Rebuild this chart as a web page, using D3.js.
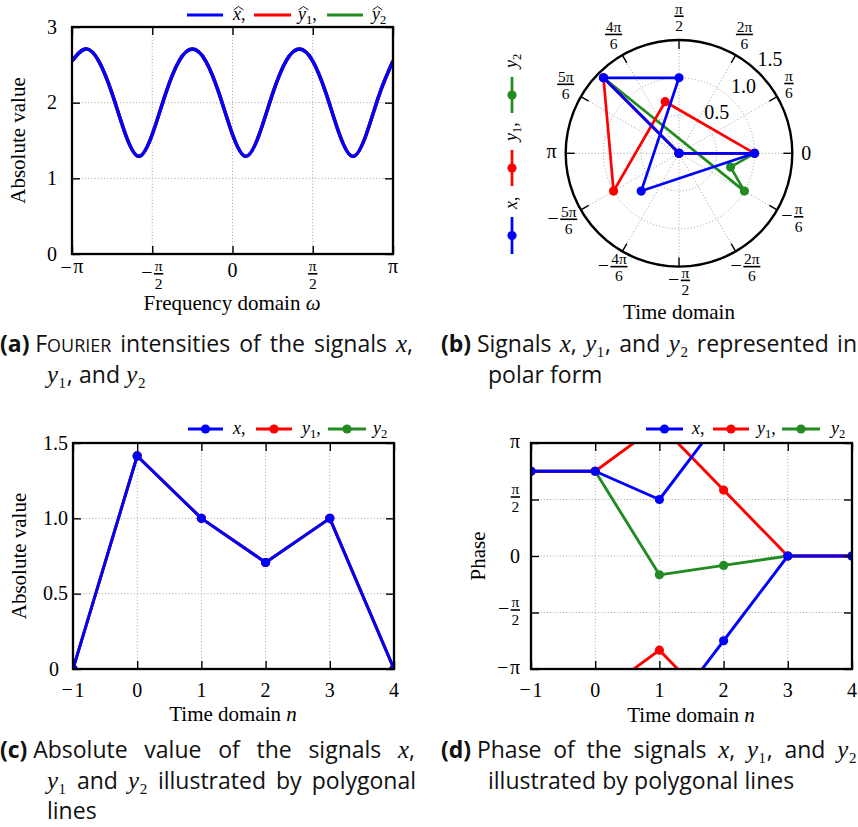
<!DOCTYPE html>
<html>
<head>
<meta charset="utf-8">
<script src="https://cdn.jsdelivr.net/npm/d3@7"></script>
<style>
  body { margin: 0; background: #fff; }
  svg { display: block; }
</style>
</head>
<body>
<svg id="fig" width="858" height="827"></svg>
<script>
// ---------------------------------------------------------------------------
// Data
// ---------------------------------------------------------------------------
// Time index n of the finite signals x, y1, y2
const timeIndex = [-1, 0, 1, 2, 3, 4];

// Absolute values |x[n]|, |y1[n]|, |y2[n]|
const absX  = [0, 1.414, 1, 0.707, 1, 0];
const absY1 = [0, 1.414, 1, 0.707, 1, 0];
const absY2 = [0, 1.414, 1, 0.707, 1, 0];

// Phases arg x[n], arg y1[n], arg y2[n] in multiples of π
const phaseX  = [0.75, 0.75, 0.5, -0.75, 0, 0];
const phaseY1 = [0.75, 0.75, -0.8333, 0.5833, 0, 0];
const phaseY2 = [0.75, 0.75, -0.1667, -0.0833, 0, 0];

// Fourier intensity |x̂(ω)| = |ŷ1(ω)| = |ŷ2(ω)| sampled at ω = k·π/12
const freqSteps = [-12, -11, -10, -9, -8, -7, -6, -5, -4, -3, -2, -1, 0,
                   1, 2, 3, 4, 5, 6, 7, 8, 9, 10, 11, 12];
const fourierMagnitude = [2.55, 2.71, 2.55, 2.12, 1.58, 1.29, 1.58, 2.12, 2.55,
                          2.71, 2.55, 2.12, 1.58, 1.29, 1.58, 2.12, 2.55,
                          2.71, 2.55, 2.12, 1.58, 1.29, 1.58, 2.12, 2.55];

// Series names and colours (drawing order: y2, y1, x so that x stays on top)
const seriesNames  = ["x", "y1", "y2"];
const seriesColors = ["#0000ff", "#ff0000", "#228b22"];

// Tick values and labels
const freqTicks       = [-1, -0.5, 0, 0.5, 1];          // multiples of π
const freqTickLabels  = ["−π", "−π/2", "0", "π/2", "π"];
const absTicksFourier = [0, 1, 2, 3];
const absTicksSignal  = [0, 0.5, 1.0, 1.5];
const absTickLabels   = ["0", "0.5", "1.0", "1.5"];
const timeTicks       = [-1, 0, 1, 2, 3, 4];
const phaseTicks      = [-1, -0.5, 0, 0.5, 1];          // multiples of π
const phaseTickLabels = ["−π", "−π/2", "0", "π/2", "π"];
const polarAngleSteps  = [0, 1, 2, 3, 4, 5, 6, -5, -4, -3, -2, -1];   // multiples of π/6
const polarAngleLabels = ["0", "π/6", "2π/6", "π/2", "4π/6", "5π/6", "π",
                          "−5π/6", "−4π/6", "−π/2", "−2π/6", "−π/6"];
const polarRadiusTicks  = [0.5, 1.0, 1.5];
const polarRadiusLabels = ["0.5", "1.0", "1.5"];

// ---------------------------------------------------------------------------
// Helpers
// ---------------------------------------------------------------------------
const SERIF = "'Liberation Serif','DejaVu Serif',serif";
const SANS  = "'Open Sans',Lato,'Noto Sans',sans-serif";
const svg = d3.select("#fig");
const defs = svg.append("defs");

const absBySeries   = [absX, absY1, absY2];
const phaseBySeries = [phaseX, phaseY1, phaseY2];
const drawOrder = [2, 1, 0];
const FRAC_FS = 15.5;
const NUM_Y = -2.5, DEN_Y = 14.8;   // baselines of numerator / denominator around the bar

// Math-style tick label: plain text or a stacked fraction, optional minus.
// Returns the group and a glyph box relative to the group origin.
function mathLabel(parent, str, fs, ffs) {
  const g = parent.append("g").style("font-family", SERIF).attr("fill", "#000");
  const neg = str.startsWith("−");
  const body = neg ? str.slice(1) : str;
  let box, axisY;
  if (body.includes("/")) {
    const [num, den] = body.split("/");
    const nt = g.append("text").attr("text-anchor", "middle").attr("y", NUM_Y)
      .style("font-size", ffs + "px").text(num);
    const dt = g.append("text").attr("text-anchor", "middle").attr("y", DEN_Y)
      .style("font-size", ffs + "px").text(den);
    const w = Math.max(nt.node().getComputedTextLength(), dt.node().getComputedTextLength()) + 1.5;
    g.append("line").attr("x1", -w / 2).attr("x2", w / 2)
      .attr("stroke", "#000").attr("stroke-width", 1.6);
    const numH = /\d/.test(num) ? 0.68 * ffs : 0.47 * ffs;
    box = { x0: -w / 2, x1: w / 2, y0: NUM_Y - numH, y1: DEN_Y };
    axisY = 0;
  } else {
    const t = g.append("text").attr("text-anchor", "middle")
      .style("font-size", fs + "px").text(body);
    const w = t.node().getComputedTextLength();
    const h = /\d/.test(body) ? 0.66 * fs : 0.47 * fs;
    box = { x0: -w / 2, x1: w / 2, y0: -h, y1: 0 };
    axisY = -h / 2;
  }
  if (neg) {
    const m = g.append("text").attr("text-anchor", "end")
      .attr("x", box.x0 - 1.5).attr("y", axisY + 0.27 * fs)
      .style("font-size", fs + "px").text("−");
    box.x0 -= m.node().getComputedTextLength() + 1.5;
  }
  return { g, box };
}

// Position a label so that a reference point of its box lands on (px, py)
function placeLabel(parent, str, fs, ffs, mode, px, py) {
  const { g, box } = mathLabel(parent, str, fs, ffs);
  let tx, ty;
  const cx = (box.x0 + box.x1) / 2, cy = (box.y0 + box.y1) / 2;
  if (mode === "top")        { tx = px - cx;     ty = py - box.y0; }
  else if (mode === "right") { tx = px - box.x1; ty = py - cy; }
  else                       { tx = px - cx;     ty = py - cy; }
  g.attr("transform", `translate(${tx},${ty})`);
  return { g, box };
}

function gridLines(g, x, y, b, gx, gy) {
  const st = s => s.attr("stroke", "#a3a3a3").attr("stroke-width", 1)
    .attr("stroke-dasharray", "1 2.2");
  g.append("g").selectAll("line").data(gx).join("line")
    .attr("x1", d => x(d)).attr("x2", d => x(d)).attr("y1", b.top).attr("y2", b.bottom).call(st);
  g.append("g").selectAll("line").data(gy).join("line")
    .attr("y1", d => y(d)).attr("y2", d => y(d)).attr("x1", b.left).attr("x2", b.right).call(st);
}

function frameAndTicks(g, x, y, b, xt, yt) {
  const len = 8;
  const st = s => {
    s.select(".domain").remove();
    s.selectAll(".tick line").attr("stroke", "#000").attr("stroke-width", 1.4);
    s.selectAll(".tick text").remove();
  };
  g.append("g").attr("transform", `translate(0,${b.bottom})`)
    .call(d3.axisBottom(x).tickValues(xt).tickSize(-len).tickFormat("")).call(st);
  g.append("g").attr("transform", `translate(0,${b.top})`)
    .call(d3.axisTop(x).tickValues(xt).tickSize(-len).tickFormat("")).call(st);
  g.append("g").attr("transform", `translate(${b.left},0)`)
    .call(d3.axisLeft(y).tickValues(yt).tickSize(-len).tickFormat("")).call(st);
  g.append("g").attr("transform", `translate(${b.right},0)`)
    .call(d3.axisRight(y).tickValues(yt).tickSize(-len).tickFormat("")).call(st);
  g.append("rect").attr("x", b.left).attr("y", b.top)
    .attr("width", b.right - b.left).attr("height", b.bottom - b.top)
    .attr("fill", "none").attr("stroke", "#000").attr("stroke-width", 2.3);
}

function clipFor(id, b) {
  defs.append("clipPath").attr("id", id).append("rect")
    .attr("x", b.left).attr("y", b.top)
    .attr("width", b.right - b.left).attr("height", b.bottom - b.top);
  return `url(#${id})`;
}

// Legend entry text: italic letter, optional wide hat, optional subscript, optional comma
function legendText(g, x, y, name, hat, comma, fs) {
  const t = g.append("text").attr("x", x).attr("y", y)
    .style("font-family", SERIF).style("font-size", fs + "px");
  const letter = t.append("tspan").style("font-style", "italic").text(name[0]);
  if (name.length > 1) {
    t.append("tspan").attr("dy", 4).style("font-size", (fs * 0.7) + "px").text(name.slice(1));
    if (comma) t.append("tspan").attr("dy", -4).text(",");
  } else if (comma) {
    t.append("tspan").text(",");
  }
  if (hat) {
    const w = letter.node().getComputedTextLength();
    const x0 = x + 0.5, x1 = x + w + 2.5;
    g.append("path")
      .attr("d", `M${x0},${y - 9.5} L${(x0 + x1) / 2},${y - 13} L${x1},${y - 9.5}`)
      .attr("fill", "none").attr("stroke", "#000").attr("stroke-width", 0.9);
  }
  return t;
}

function axisTitle(g, x, y, parts, rotate) {
  const t = g.append("text").attr("text-anchor", "middle")
    .style("font-family", SERIF).style("font-size", "21px");
  if (rotate) t.attr("transform", `translate(${x},${y}) rotate(-90)`);
  else t.attr("x", x).attr("y", y);
  parts.forEach(([s, it]) => t.append("tspan").style("font-style", it ? "italic" : "normal").text(s));
  return t;
}

// ---------------------------------------------------------------------------
// (a) Fourier intensities
// ---------------------------------------------------------------------------
{
  const b = { left: 72, right: 393, top: 27, bottom: 254 };
  const x = d3.scaleLinear().domain([-1, 1]).range([b.left, b.right]);
  const y = d3.scaleLinear().domain([0, 3]).range([b.bottom, b.top]);
  const g = svg.append("g");
  gridLines(g, x, y, b, [-0.5, 0, 0.5], [1, 2]);

  const line = d3.line()
    .x((d, i) => x(freqSteps[i] / 12))
    .y(d => y(d))
    .curve(d3.curveNatural);
  const clip = clipFor("clipA", b);
  drawOrder.forEach(s => {
    g.append("path").datum(fourierMagnitude).attr("d", line).attr("clip-path", clip)
      .attr("fill", "none").attr("stroke", seriesColors[s]).attr("stroke-width", 3.4)
      .attr("stroke-linejoin", "round");
  });
  frameAndTicks(g, x, y, b, freqTicks, absTicksFourier);

  freqTicks.forEach((v, i) => placeLabel(g, freqTickLabels[i], 20, FRAC_FS, "top", x(v), 264));
  absTicksFourier.forEach(v => {
    g.append("text").attr("x", 57).attr("y", y(v) + 6.8).attr("text-anchor", "end")
      .style("font-family", SERIF).style("font-size", "20px").text(String(v));
  });
  axisTitle(g, 25, (b.top + b.bottom) / 2, [["Absolute value", false]], true);
  axisTitle(g, 232, 310, [["Frequency domain ", false], ["ω", true]], false);

  // legend
  const lg = g.append("g");
  const lx = [[187, 223, 233], [254, 291, 298], [327, 363, 372]];
  seriesNames.forEach((nm, i) => {
    lg.append("line").attr("x1", lx[i][0]).attr("x2", lx[i][1]).attr("y1", 15).attr("y2", 15)
      .attr("stroke", seriesColors[i]).attr("stroke-width", 3);
    legendText(lg, lx[i][2], 19.5, nm, true, i < 2, 18);
  });
}

// ---------------------------------------------------------------------------
// (b) Polar representation
// ---------------------------------------------------------------------------
{
  const P = { cx: 679, cy: 153.3, R: 113.3 };
  const r = d3.scaleLinear().domain([0, 1.5]).range([0, P.R]);
  const ang = k => Math.PI / 2 - k * Math.PI / 6;      // d3 radial angle of k·π/6
  const g = svg.append("g").attr("transform", `translate(${P.cx},${P.cy})`);
  const dotted = s => s.attr("fill", "none").attr("stroke", "#a3a3a3")
    .attr("stroke-width", 1).attr("stroke-dasharray", "1 2.2");

  g.append("g").selectAll("circle").data(polarRadiusTicks.slice(0, -1)).join("circle")
    .attr("r", d => r(d)).call(dotted);
  g.append("g").selectAll("line").data(polarAngleSteps).join("line")
    .attr("x1", 0).attr("y1", 0)
    .attr("x2", k => d3.pointRadial(ang(k), P.R)[0])
    .attr("y2", k => d3.pointRadial(ang(k), P.R)[1]).call(dotted);

  const radial = d3.lineRadial()
    .angle(d => Math.PI / 2 - d.phase * Math.PI)
    .radius(d => r(d.abs));
  drawOrder.forEach(s => {
    const pts = timeIndex.map((n, i) => ({ abs: absBySeries[s][i], phase: phaseBySeries[s][i] }));
    g.append("path").datum(pts).attr("d", radial).attr("fill", "none")
      .attr("stroke", seriesColors[s]).attr("stroke-width", 2.7).attr("stroke-linejoin", "round");
    g.append("g").selectAll("circle").data(pts).join("circle")
      .attr("cx", d => d3.pointRadial(Math.PI / 2 - d.phase * Math.PI, r(d.abs))[0])
      .attr("cy", d => d3.pointRadial(Math.PI / 2 - d.phase * Math.PI, r(d.abs))[1])
      .attr("r", 4.6).attr("fill", seriesColors[s]);
  });

  // outer circle and inward ticks
  g.append("circle").attr("r", P.R).attr("fill", "none").attr("stroke", "#000").attr("stroke-width", 2.4);
  g.append("g").selectAll("line").data(polarAngleSteps).join("line")
    .attr("x1", k => d3.pointRadial(ang(k), P.R - 9)[0])
    .attr("y1", k => d3.pointRadial(ang(k), P.R - 9)[1])
    .attr("x2", k => d3.pointRadial(ang(k), P.R)[0])
    .attr("y2", k => d3.pointRadial(ang(k), P.R)[1])
    .attr("stroke", "#000").attr("stroke-width", 1.4);

  // angular labels (slightly tighter to the circle on the lower half)
  polarAngleSteps.forEach((k, i) => {
    const th = k * Math.PI / 6;
    const { g: lg, box } = mathLabel(g, polarAngleLabels[i], 20, FRAC_FS);
    const w = box.x1 - box.x0, h = box.y1 - box.y0;
    const gap = 9 - 5 * Math.max(0, -Math.sin(th));
    const [px, py] = d3.pointRadial(ang(k), P.R + gap);
    const tx = px + (w / 2) * Math.cos(th) - (box.x0 + box.x1) / 2;
    const ty = py - (h / 2) * Math.sin(th) - (box.y0 + box.y1) / 2;
    lg.attr("transform", `translate(${tx},${ty})`);
  });
  // radial labels
  polarRadiusTicks.forEach((v, i) => {
    const [px, py] = d3.pointRadial(Math.PI / 4, r(v));
    g.append("text").attr("x", px + 11).attr("y", py - 14 + 6.8).attr("text-anchor", "middle")
      .style("font-family", SERIF).style("font-size", "20px").text(polarRadiusLabels[i]);
  });
  axisTitle(svg, 679, 319, [["Time domain", false]], false);

  // vertical legend
  const lgd = svg.append("g").attr("transform", "translate(512,254) rotate(-90)");
  const pos = [[0, 37, 45], [68, 104, 113], [141, 177, 186]];
  seriesNames.forEach((nm, i) => {
    lgd.append("line").attr("x1", pos[i][0]).attr("x2", pos[i][1]).attr("y1", 0).attr("y2", 0)
      .attr("stroke", seriesColors[i]).attr("stroke-width", 2.7);
    lgd.append("circle").attr("cx", (pos[i][0] + pos[i][1]) / 2).attr("cy", 0).attr("r", 4.6)
      .attr("fill", seriesColors[i]);
    legendText(lgd, pos[i][2], 5, nm, false, i < 2, 18);
  });
}

// ---------------------------------------------------------------------------
// (c) Absolute values over n
// ---------------------------------------------------------------------------
{
  const b = { left: 73, right: 394, top: 443, bottom: 669 };
  const x = d3.scaleLinear().domain([-1, 4]).range([b.left, b.right]);
  const y = d3.scaleLinear().domain([0, 1.5]).range([b.bottom, b.top]);
  const g = svg.append("g");
  gridLines(g, x, y, b, [0, 1, 2, 3], [0.5, 1.0]);
  const clip = clipFor("clipC", b);
  const line = d3.line().x((d, i) => x(timeIndex[i])).y(d => y(d));
  drawOrder.forEach(s => {
    const sg = g.append("g").attr("clip-path", clip);
    sg.append("path").datum(absBySeries[s]).attr("d", line).attr("fill", "none")
      .attr("stroke", seriesColors[s]).attr("stroke-width", 2.9).attr("stroke-linejoin", "round");
    sg.selectAll("circle").data(absBySeries[s]).join("circle")
      .attr("cx", (d, i) => x(timeIndex[i])).attr("cy", d => y(d)).attr("r", 4.6)
      .attr("fill", seriesColors[s]);
  });
  frameAndTicks(g, x, y, b, timeTicks, absTicksSignal);
  timeTicks.forEach(v => placeLabel(g, v < 0 ? "−" + Math.abs(v) : String(v), 20, FRAC_FS, "top", x(v), 683.5));
  absTicksSignal.forEach((v, i) => {
    g.append("text").attr("x", v === 0 ? 59 : 68).attr("y", y(v) + 6.8).attr("text-anchor", "end")
      .style("font-family", SERIF).style("font-size", "20px").text(absTickLabels[i]);
  });
  axisTitle(g, 26, (b.top + b.bottom) / 2, [["Absolute value", false]], true);
  axisTitle(g, 233, 721, [["Time domain ", false], ["n", true]], false);

  const lg = g.append("g");
  const lx = [[188, 223, 233], [256, 292, 302], [328, 366, 373]];
  seriesNames.forEach((nm, i) => {
    lg.append("line").attr("x1", lx[i][0]).attr("x2", lx[i][1]).attr("y1", 429).attr("y2", 429)
      .attr("stroke", seriesColors[i]).attr("stroke-width", 2.9);
    lg.append("circle").attr("cx", (lx[i][0] + lx[i][1]) / 2).attr("cy", 429).attr("r", 4.6)
      .attr("fill", seriesColors[i]);
    legendText(lg, lx[i][2], 433.5, nm, false, i < 2, 18);
  });
}

// ---------------------------------------------------------------------------
// (d) Phases over n (wrapped to [−π, π])
// ---------------------------------------------------------------------------
{
  const b = { left: 531, right: 852, top: 443, bottom: 669 };
  const x = d3.scaleLinear().domain([-1, 4]).range([b.left, b.right]);
  const y = d3.scaleLinear().domain([-1, 1]).range([b.bottom, b.top]);
  const g = svg.append("g");
  gridLines(g, x, y, b, [0, 1, 2, 3], [-0.5, 0, 0.5]);
  const clip = clipFor("clipD", b);

  drawOrder.forEach(s => {
    const ph = phaseBySeries[s];
    const segs = [];
    for (let i = 0; i < ph.length - 1; i++) {
      const a = ph[i], c = ph[i + 1], n0 = timeIndex[i], n1 = timeIndex[i + 1];
      if (c - a > 1) {
        segs.push([[n0, a], [n1, c - 2]], [[n0, a + 2], [n1, c]]);
      } else if (c - a < -1) {
        segs.push([[n0, a], [n1, c + 2]], [[n0, a - 2], [n1, c]]);
      } else {
        segs.push([[n0, a], [n1, c]]);
      }
    }
    const sg = g.append("g").attr("clip-path", clip);
    sg.selectAll("path").data(segs).join("path")
      .attr("d", d3.line().x(d => x(d[0])).y(d => y(d[1])))
      .attr("fill", "none").attr("stroke", seriesColors[s]).attr("stroke-width", 2.9)
      .attr("stroke-linecap", "round");
    sg.selectAll("circle").data(ph).join("circle")
      .attr("cx", (d, i) => x(timeIndex[i])).attr("cy", d => y(d)).attr("r", 4.6)
      .attr("fill", seriesColors[s]);
  });
  frameAndTicks(g, x, y, b, timeTicks, phaseTicks);
  timeTicks.forEach(v => placeLabel(g, v < 0 ? "−" + Math.abs(v) : String(v), 20, FRAC_FS, "top", x(v), 683.5));
  phaseTicks.forEach((v, i) => placeLabel(g, phaseTickLabels[i], 20, FRAC_FS, "right", 520, y(v)));
  axisTitle(g, 485, (b.top + b.bottom) / 2, [["Phase", false]], true);
  axisTitle(g, 691, 722, [["Time domain ", false], ["n", true]], false);

  const lg = g.append("g");
  const lx = [[646, 683, 692], [713, 749, 757], [782, 820, 831]];
  seriesNames.forEach((nm, i) => {
    lg.append("line").attr("x1", lx[i][0]).attr("x2", lx[i][1]).attr("y1", 429).attr("y2", 429)
      .attr("stroke", seriesColors[i]).attr("stroke-width", 2.9);
    lg.append("circle").attr("cx", (lx[i][0] + lx[i][1]) / 2).attr("cy", 429).attr("r", 4.6)
      .attr("fill", seriesColors[i]);
    legendText(lg, lx[i][2], 433.5, nm, false, i < 2, 18);
  });
}

// ---------------------------------------------------------------------------
// Sub-figure captions
// Markup: $...$ math italic (with _1/_2 subscripts), ^...^ small capitals.
// Each word is its own text element so justified lines can be spread.
// ---------------------------------------------------------------------------
const CAP_FS = 23;
const SUBSCRIPT = { "1": "₁", "2": "₂" };

function parseWord(word) {
  const segs = [];
  const re = /\$([^$]*)\$|\^([^^]*)\^|([^$^]+)/g;
  let m;
  while ((m = re.exec(word))) {
    if (m[1] !== undefined) {
      m[1].split(/(_\d)/).filter(s => s).forEach(s => {
        if (s.startsWith("_")) segs.push([SUBSCRIPT[s[1]], "sub"]);
        else segs.push([s, "m"]);
      });
    } else if (m[2] !== undefined) segs.push([m[2], "sc"]);
    else segs.push([m[3], "n"]);
  }
  return segs;
}

function captionWord(y, segs, bold) {
  const t = svg.append("text").attr("y", y)
    .style("font-family", SANS).style("font-size", CAP_FS + "px").attr("fill", "#111");
  if (bold) t.style("font-weight", "bold");
  segs.forEach(([s, kind]) => {
    const ts = t.append("tspan").text(s);
    if (kind === "sc") ts.style("font-size", (CAP_FS * 0.78) + "px");
    if (kind === "m") ts.style("font-family", SERIF).style("font-style", "italic")
      .style("font-size", (CAP_FS * 1.08) + "px");
    if (kind === "sub") ts.style("font-family", SERIF).style("font-size", (CAP_FS * 1.1) + "px");
  });
  return t;
}

function captionLine(x, y, text, endX) {
  const words = text.split(" ");
  const els = words.map(w => captionWord(y, parseWord(w), false));
  const widths = els.map(e => e.node().getComputedTextLength());
  let gap = CAP_FS * 0.27;
  if (endX && words.length > 1) {
    gap = Math.max(CAP_FS * 0.14, (endX - x - d3.sum(widths)) / (words.length - 1));
  }
  let cx = x;
  els.forEach((e, i) => { e.attr("x", cx); cx += widths[i] + gap; });
}

function caption(x, y, label, lines) {
  const lab = captionWord(y, [[label, "n"]], true).attr("x", x);
  const bodyX = x + lab.node().getComputedTextLength() + CAP_FS * 0.25;
  lines.forEach((ln, i) => {
    captionLine(i === 0 ? bodyX : x + 47, y + i * 30.5, ln.text, ln.end);
  });
}

caption(0, 352, "(a)", [
  { text: "F^OURIER^ intensities of the signals $x$,", end: 413 },
  { text: "$y_1$, and $y_2$" }
]);
caption(441, 352, "(b)", [
  { text: "Signals $x$, $y_1$, and $y_2$ represented in", end: 857 },
  { text: "polar form" }
]);
caption(0, 758, "(c)", [
  { text: "Absolute value of the signals $x$,", end: 415 },
  { text: "$y_1$ and $y_2$ illustrated by polygonal", end: 416 },
  { text: "lines" }
]);
caption(441, 758, "(d)", [
  { text: "Phase of the signals $x$, $y_1$, and $y_2$", end: 857 },
  { text: "illustrated by polygonal lines" }
]);
</script>
</body>
</html>
